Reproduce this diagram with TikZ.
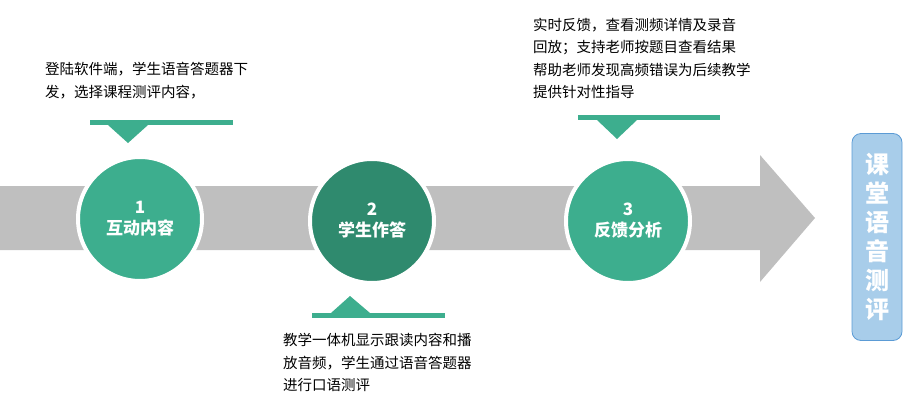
\documentclass[tikz,border=0pt]{standalone}
\usepackage{fontspec}
\newfontfamily\cjk{Noto Sans CJK SC}
\usetikzlibrary{shapes.geometric}
\definecolor{gband}{HTML}{BFBFBF}
\definecolor{tealA}{HTML}{3DAE8E}
\definecolor{tealB}{HTML}{2F8A6E}
\definecolor{boxblue}{HTML}{A8CDEA}
\definecolor{boxline}{HTML}{5B9BD5}
\begin{document}
\begin{tikzpicture}[x=1pt,y=-1pt,
  stepcirc/.style={circle,minimum size=124pt,draw=white,line width=4pt,text=white,font=\cjk\fontsize{17}{21}\selectfont\bfseries,align=center,inner sep=0pt},
  note/.style={anchor=north west,align=left,font=\cjk\fontsize{14.5}{22.5}\selectfont,inner sep=0pt}]
\useasboundingbox (0,0) rectangle (921,402);
% band arrow
\fill[gband] (0,186) -- (760,186) -- (760,155) -- (815,218) -- (760,282) -- (760,250) -- (0,250) -- cycle;
% callouts
\fill[tealA] (90,120) rectangle (233,125);
\fill[tealA] (108,125) -- (148,125) -- (128,143) -- cycle;
\fill[tealA] (578,115) rectangle (720,120);
\fill[tealA] (597,120) -- (637,120) -- (617,139) -- cycle;
\fill[tealA] (312,313) rectangle (445,318);
\fill[tealA] (331,313) -- (370,313) -- (350,296) -- cycle;
% circles
\node[stepcirc,fill=tealA] (c1) at (140,219) {1\\互动内容};
\node[stepcirc,fill=tealB] (c2) at (372,221) {2\\学生作答};
\node[stepcirc,fill=tealA] (c3) at (628,221) {3\\反馈分析};
% texts
\node[note] (t1) at (45,62) {登陆软件端，学生语音答题器下\\发，选择课程测评内容，};
\node[note] (t3) at (533,18) {实时反馈，查看测频详情及录音\\回放；支持老师按题目查看结果\\帮助老师发现高频错误为后续教学\\提供针对性指导};
\node[note] (t2) at (283,333) {教学一体机显示跟读内容和播\\放音频，学生通过语音答题器\\进行口语测评};
% right box
\node[draw=boxline,fill=boxblue,rounded corners=9pt,minimum width=50pt,minimum height=207pt,line width=0.8pt,text=white,font=\cjk\fontsize{24}{29}\selectfont\bfseries,align=center,inner sep=0pt] (box) at (877,237) {课\\堂\\语\\音\\测\\评};
\end{tikzpicture}
\end{document}
